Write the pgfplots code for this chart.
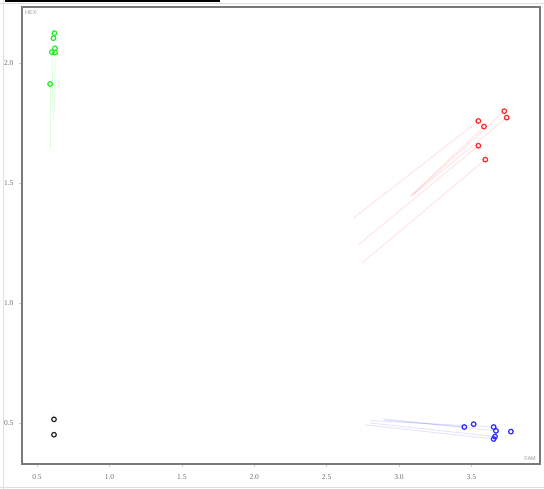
\documentclass[border=0pt]{standalone}
\usepackage{fontspec}
\setmainfont{Liberation Serif}
\newfontfamily\lsans{Liberation Sans}
\usepackage{pgfplots}
\pgfplotsset{compat=1.18}
\definecolor{gframe}{HTML}{7A7A7A}
\definecolor{gtick}{HTML}{6E6E6E}
\definecolor{cgreen}{HTML}{22EE22}
\definecolor{cred}{HTML}{FF2A2A}
\definecolor{cblue}{HTML}{2A2AFF}
\definecolor{cblack}{HTML}{222222}
\begin{document}
\begin{tikzpicture}[x=1pt,y=1pt]
\path[use as bounding box] (0,0) rectangle (544,489);
% surrounding sheet lines
\draw[black!12, line width=0.8pt] (3,0) -- (3,489);
\draw[black!12, line width=0.8pt] (0,2) -- (544,2);
\draw[black!12, line width=0.8pt] (0,486) -- (544,486);
\draw[black, line width=1.2pt] (5,488) -- (220,488);
\begin{axis}[
  at={(22pt,25pt)}, anchor=south west,
  scale only axis, width=518pt, height=457pt,
  xmin=0.396, xmax=3.974, ymin=0.329, ymax=2.233,
  axis line style={gframe, line width=1.8pt},
  xtick={0.5,1.0,...,3.5}, ytick={0.5,1.0,1.5,2.0},
  xticklabel style={/pgf/number format/fixed,/pgf/number format/fixed zerofill,/pgf/number format/precision=1},
  yticklabel style={/pgf/number format/fixed,/pgf/number format/fixed zerofill,/pgf/number format/precision=1},
  /pgf/number format/assume math mode=true,
  ticklabel style={font=\fontsize{7.5}{8}\selectfont, text=gtick},
  tick align=outside, major tick length=3pt,
  tick style={black!20, line width=0.6pt},
  xtick pos=bottom, ytick pos=left,
  xticklabel shift=4pt, yticklabel shift=2pt,
  clip=true,
]
% tails
\addplot[cgreen, opacity=0.15, line width=1pt] coordinates {(0.590,1.9125) (0.590,1.64)};
\addplot[cgreen, opacity=0.15, line width=1pt] coordinates {(0.602,2.045) (0.612,1.76)};
\addplot[cgreen, opacity=0.12, line width=1pt] coordinates {(0.624,2.043) (0.622,1.80)};
\addplot[cred, opacity=0.12, line width=1pt] coordinates {(3.548,1.758) (2.684,1.353)};
\addplot[cred, opacity=0.12, line width=1pt] coordinates {(3.548,1.655) (2.719,1.242)};
\addplot[cred, opacity=0.12, line width=1pt] coordinates {(3.596,1.597) (2.742,1.165)};
\addplot[cred, opacity=0.12, line width=1pt] coordinates {(3.587,1.735) (3.076,1.443)};
\addplot[cred, opacity=0.12, line width=1pt] coordinates {(3.727,1.799) (3.09,1.448)};
\addplot[cred, opacity=0.12, line width=1pt] coordinates {(3.744,1.772) (3.10,1.452)};
\addplot[cblue, opacity=0.12, line width=1pt] coordinates {(3.654,0.433) (2.765,0.492)};
\addplot[cblue, opacity=0.12, line width=1pt] coordinates {(3.663,0.443) (2.80,0.500)};
\addplot[cblue, opacity=0.12, line width=1pt] coordinates {(3.654,0.483) (2.80,0.510)};
\addplot[cblue, opacity=0.12, line width=1pt] coordinates {(3.670,0.467) (2.89,0.517)};
\addplot[cblue, opacity=0.12, line width=1pt] coordinates {(3.451,0.483) (2.90,0.512)};
\addplot[black, opacity=0.08, line width=1pt] coordinates {(0.617,0.515) (0.617,0.54)};
% points
\addplot[only marks, mark=o, mark size=2.3pt, mark options={cgreen, line width=1.2pt}] coordinates {
(0.620,2.124) (0.613,2.103) (0.602,2.045) (0.624,2.061) (0.624,2.043) (0.590,1.9125)};
\addplot[only marks, mark=o, mark size=2.3pt, mark options={cred, line width=1.2pt}] coordinates {
(3.548,1.758) (3.587,1.735) (3.727,1.799) (3.744,1.772) (3.548,1.655) (3.596,1.597)};
\addplot[only marks, mark=o, mark size=2.3pt, mark options={cblue, line width=1.2pt}] coordinates {
(3.451,0.483) (3.516,0.495) (3.654,0.483) (3.670,0.467) (3.773,0.464) (3.663,0.443) (3.654,0.433)};
\addplot[only marks, mark=o, mark size=2.3pt, mark options={cblack, line width=1.2pt}] coordinates {
(0.617,0.515) (0.617,0.451)};
\node[anchor=north west, inner sep=0pt, text=black!40, font=\lsans\fontsize{5.5}{6}\selectfont] at (rel axis cs:0,1) [xshift=3pt,yshift=-4pt] {HEX};
\node[anchor=south east, inner sep=0pt, text=black!40, font=\lsans\fontsize{5.5}{6}\selectfont] at (rel axis cs:1,0) [xshift=-4pt,yshift=3pt] {FAM};
\end{axis}
\end{tikzpicture}
\end{document}
